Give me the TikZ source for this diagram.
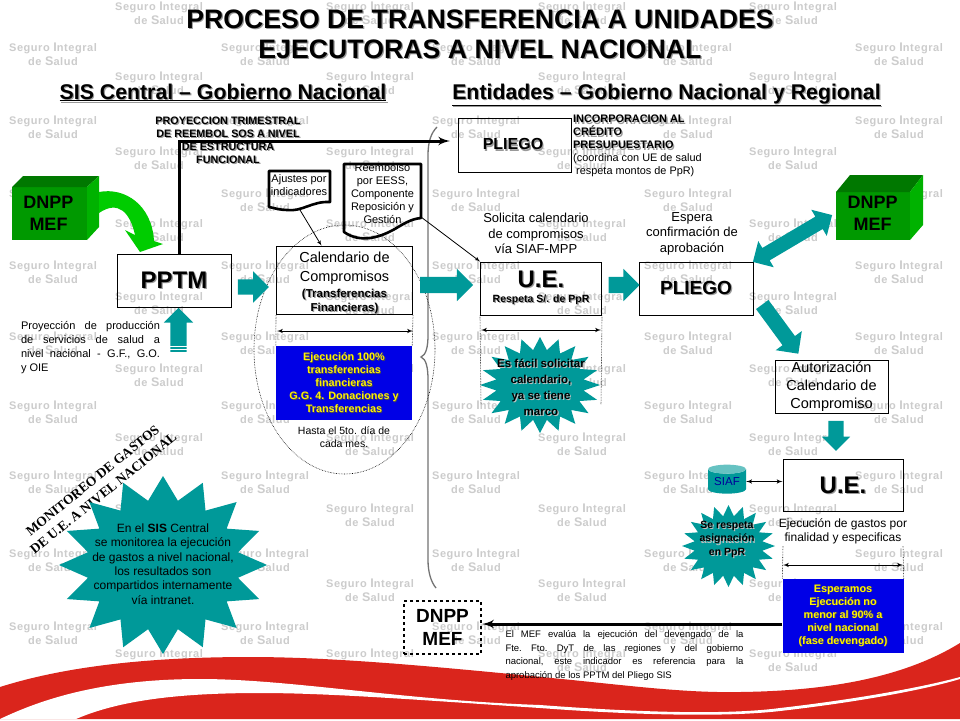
\documentclass[tikz,border=0pt]{standalone}
\usepackage{fontspec}
\setmainfont{Liberation Sans}
\newfontfamily\wmfont[LetterSpace=5]{Liberation Sans}
\newfontfamily\monfont{Liberation Serif}
\usetikzlibrary{shapes, arrows}

\definecolor{tealc}{RGB}{0,153,153}
\definecolor{bluec}{RGB}{0,0,230}
\definecolor{redc}{RGB}{218,37,28}
\newcommand{\fs}[2]{\fontsize{#1}{#2}\selectfont}
\newcommand{\shd}[2][black!40]{\leavevmode\rlap{\kern1.2pt\raisebox{-1.2pt}{\textcolor{#1}{#2}}}#2}
\newcommand{\ysh}[1]{\leavevmode\rlap{\kern0.8pt\raisebox{-0.8pt}{\textcolor{black!70}{#1}}}\textcolor{yellow}{#1}}

\begin{document}
\begin{tikzpicture}[x=1pt,y=-1pt]

\tikzstyle{connector} = [draw, -latex', line width=0.8pt]
\tikzstyle{both} = [draw, latex'-latex', line width=1pt]
\tikzstyle{heavy} = [draw, -latex', line width=3pt]
\tikzstyle{guide} = [draw, densely dotted, line width=0.6pt]
\tikzstyle{box} = [rectangle, draw, line width=1pt, align=center, inner sep=0pt]
\tikzstyle{bluebox} = [rectangle, fill=bluec, align=center, inner sep=0pt, font=\bfseries\fs{10.8}{13}]
\tikzstyle{txt} = [align=center, inner sep=0pt]
\tikzstyle{docline} = [draw, line width=2.6pt, line join=round]
\tikzstyle{tarrow} = [single arrow, fill=tealc, inner xsep=0pt, outer sep=0pt]
\tikzstyle{burst} = [star, fill=tealc, inner sep=0pt, outer sep=0pt, transform shape]
\tikzstyle{cube} = [txt, font=\bfseries\fs{18}{22}]
\tikzstyle{wm} = [txt, text=black!20, font=\wmfont\bfseries\fs{11}{14}]

\path [use as bounding box, fill=white] (0,0) rectangle (960,720);

% watermark
\foreach \wx in {53,265,476,688,899}
  \foreach \wy in {54,127,200,272,343,412,482,560,633}
    \node [wm] (wm-\wx-\wy) at (\wx,\wy) {Seguro {\fs{12.5}{14}I}ntegral\\de {\fs{12.5}{14}S}alud};
\foreach \wx in {159,370,582,793}
  \foreach \wy in {13,83,158,230,303,375,444,515,590,660}
    \node [wm] (wm-\wx-\wy) at (\wx,\wy) {Seguro {\fs{12.5}{14}I}ntegral\\de {\fs{12.5}{14}S}alud};

% red band
\fill [redc] (0,687) .. controls (60,668) and (140,657) .. (250,657)
  .. controls (340,657) and (450,668) .. (572,680) .. controls (640,687) and (690,693) .. (740,692)
  .. controls (820,691) and (900,680) .. (960,643) -- (960,719) -- (0,719) -- cycle;
\fill [white] (0,719) .. controls (40,700) and (100,679) .. (200,679)
  .. controls (290,679) and (400,700) .. (540,705) .. controls (620,711) and (720,716) .. (780,708)
  .. controls (850,700) and (920,688) .. (960,677) -- (960,679)
  .. controls (920,691) and (850,703) .. (780,711) .. controls (720,718) and (620,714) .. (540,708)
  .. controls (420,700) and (330,693) .. (260,693) .. controls (180,693) and (120,700) .. (76,719) -- cycle;

% titles
\node [txt, font=\bfseries\fs{26.7}{30}] (title) at (480,35) {\shd{PROCESO DE TRANSFERENCIA A UNIDADES}\\\shd{EJECUTORAS A NIVEL NACIONAL}};
\node [txt, anchor=base, font=\bfseries\fs{21.3}{24}] (sis) at (223,99) {\shd{\underline{SIS Central – Gobierno Nacional}}};
\node [txt, anchor=base, font=\bfseries\fs{21.3}{24}] (entidades) at (666.5,99) {\shd{\underline{Entidades – Gobierno Nacional y Regional}}};

% brace and ellipse
\draw [black!55, line width=1.3pt] (437,127) .. controls (431,133) and (428,142) .. (428,155) -- (428,335)
  .. controls (428,347) and (426,355) .. (421,357) .. controls (426,359) and (428,367) .. (428,380) -- (428,560)
  .. controls (428,572) and (431,582) .. (436,588);
\draw [densely dotted, line width=0.6pt] (344.5,349.5) ellipse (90.5 and 124.5);

% cubes
\fill [green!60!black] (12,187) -- (87,187) -- (87,240) -- (12,240) -- cycle;
\fill [green!47!black] (12,187) -- (23,176) -- (99,176) -- (87,187) -- cycle;
\fill [green!70!black] (87,187) -- (99,176) -- (99,227) -- (87,240) -- cycle;
\fill [green!60!black] (836,192) -- (910,192) -- (910,240) -- (836,240) -- cycle;
\fill [green!47!black] (836,192) -- (850,175) -- (923,175) -- (910,192) -- cycle;
\fill [green!70!black] (910,192) -- (923,175) -- (923,225) -- (910,240) -- cycle;
\node [cube] (dnpp_left) at (48.5,213) {DNPP\\MEF};
\node [cube] (dnpp_right) at (872.5,213) {DNPP\\MEF};
\fill [green!80!black] (99,192) .. controls (125,187) and (152,205) .. (154,241) -- (163,244) -- (140,252)
  -- (125,230) -- (135,235) .. controls (130,212) and (118,200) .. (99,213) -- cycle;

% boxes
\node [box, minimum width=114pt, minimum height=53pt, font=\bfseries\fs{24}{26}] (pptm) at (174,280.5) {\shd{PPTM}};
\node [box, minimum width=113pt, minimum height=54pt, font=\bfseries\fs{16}{18}] (pliego_top) at (514.5,145) {\kern-3pt\shd{PLIEGO}};
\node [box, minimum width=136pt, minimum height=67pt, font=\fs{14.5}{19}] (calendar) at (344.5,280.5)
  {\rule{0pt}{16pt}Calendario de\\Compromisos\\[-3pt]\bfseries\fs{11.5}{14}\shd{(Transferencias}\\[-5pt]\bfseries\fs{11.5}{14}\shd{Financieras)}};
\node [box, minimum width=121pt, minimum height=53pt, font=\bfseries\fs{24}{17}] (ue) at (541,288.5)
  {\raisebox{-3pt}{\shd{U.E.}}\\\fs{10.5}{12}\raisebox{-1pt}{\shd{Respeta S/. de PpR}}};
\node [box, minimum width=114pt, minimum height=53pt, font=\bfseries\fs{19}{21}] (pliego) at (696,288.5) {\shd{PLIEGO}};
\node [box, minimum width=113pt, minimum height=53pt, font=\fs{14.5}{18}] (autoriza) at (831.5,386.5) {Autorización\\Calendario de\\Compromiso};
\node [box, minimum width=120pt, minimum height=52pt, font=\bfseries\fs{24}{26}] (ue_exec) at (843,485.5) {\shd{U.E.}};
\node [box, dashed, line width=2.4pt, minimum width=77pt, minimum height=53pt, font=\bfseries\fs{19}{23}] (dnpp_dash) at (442.5,627.5) {DNPP\\MEF};

% blue boxes
\node [bluebox, minimum width=136pt, minimum height=74pt] (exec100) at (344,383)
  {\ysh{Ejecución 100\%}\\\ysh{transferencias}\\\ysh{financieras}\\\ysh{G.G. 4. Donaciones y}\\\ysh{Transferencias}};
\node [bluebox, minimum width=121pt, minimum height=74pt] (exec90) at (843,616)
  {\ysh{Esperamos}\\\ysh{Ejecución no}\\\ysh{menor al 90\% a}\\\ysh{nivel nacional}\\\ysh{(fase devengado)}};

% documents
\draw [docline] (269,171) -- (330,171) -- (330,202) .. controls (312,201) and (302,212) .. (287,210) .. controls (280,210) and (274,208) .. (269,207) -- cycle;
\draw [docline] (344,164) -- (421,164) -- (421,218) .. controls (410,219) and (402,225) .. (393,230) .. controls (378,238) and (360,243) .. (344,232) -- cycle;
\node [txt, font=\fs{11}{13}] (ajustes) at (299,185.5) {Ajustes por\\indicadores};
\node [txt, font=\fs{11}{13}] (reembolso) at (382.5,194) {Reembolso\\por EESS,\\Componente\\Reposición y\\Gestión};

% texts
\node [txt, font=\bfseries\fs{10.8}{13}] (proyeccion) at (228,140.5) {\shd{PROYECCION TRIMESTRAL}\\\shd{DE REEMBOL SOS A NIVEL}\\\shd{DE ESTRUCTURA}\\\shd{FUNCIONAL}};
\node [txt, align=left, anchor=north west, font=\fs{10.9}{13}] (incorp) at (573,115)
  {\bfseries\shd{INCORPORACION AL}\\\bfseries\shd{CRÉDITO}\\\bfseries\shd{PRESUPUESTARIO}\\(coordina con UE de salud\\\ respeta montos de PpR)};
\node [txt, text width=139pt, align=justify, font=\frenchspacing\fs{11}{14}] (produccion) at (90.5,347.5)
  {Proyección de producción\linebreak de servicios de salud a\linebreak nivel nacional - G.F., G.O.\linebreak y OIE};
\node [txt, font=\fs{13}{15.5}] (solicita) at (536,233.5) {Solicita calendario\\de compromisos\\vía SIAF-MPP};
\node [txt, font=\fs{13}{15.5}] (espera) at (692,233.5) {Espera\\confirmación de\\aprobación};
\node [txt, font=\fs{10.5}{13}] (hasta) at (344,437.5) {Hasta el 5to. día de\\cada mes.};
\node [txt, font=\fs{12}{14}] (ejecucion) at (843,531) {Ejecución de gastos por\\finalidad y especificas};
\node [txt, text width=238pt, align=justify, font=\frenchspacing\fs{9.5}{13.4}] (evalua) at (624.5,655.5)
  {El MEF evalúa la ejecución del devengado de la\linebreak Fte. Fto. DyT de las regiones y del gobierno\linebreak nacional, este indicador es referencia para la\linebreak aprobación de los PPTM del Pliego SIS};
\node [txt, rotate=39, font=\monfont\bfseries\fs{13.5}{17}] (monitoreo) at (98,487) {MONITOREO DE GASTOS\\DE U.E. A NIVEL NACIONAL};

% teal arrows
\node [tarrow, inner ysep=7.5pt, minimum height=31pt, single arrow head extend=8pt] (a_pptm) at (249.5,287) {};
\node [tarrow, inner ysep=8pt, minimum height=53pt, single arrow head extend=8pt] (a_cal) at (442.5,285) {};
\node [tarrow, inner ysep=8pt, minimum height=31pt, single arrow head extend=8pt] (a_ue) at (620,285) {};
\node [tarrow, inner ysep=8pt, rotate=90, minimum height=44pt, single arrow head extend=6.5pt] (a_up) at (178.5,334) {};
\node [tarrow, inner ysep=7.5pt, rotate=-90, minimum height=30pt, single arrow head extend=6.5pt] (a_down) at (836,432) {};
\node [tarrow, inner ysep=7.5pt, rotate=-53.7, minimum height=61pt, single arrow head extend=8.5pt] (a_auth) at (778,326) {};
\node [double arrow, fill=tealc, inner xsep=0pt, inner ysep=7pt, rotate=30.6, minimum height=92pt, double arrow head extend=8pt] (a_mef) at (792.5,238.5) {};
\draw [white, line width=0.8pt] (170,346.5) -- (187,346.5) (170,349.5) -- (187,349.5);

% stars
\node [burst, star points=16, star point ratio=1.36, minimum size=178pt, xscale=1.169] (star_sis) at (163,565) {};
\node [burst, star points=20, star point ratio=1.36, minimum size=96pt, xscale=1.25] (star_ue) at (540,385) {};
\node [burst, star points=20, star point ratio=1.36, minimum size=82pt, xscale=1.134] (star_asig) at (728.5,546) {};
\node [txt, font=\fs{12}{14.4}] (star_sis_txt) at (163,564) {En el \textbf{SIS} Central\\se monitorea la ejecución\\de gastos a nivel nacional,\\los resultados son\\compartidos internamente\\vía intranet.};
\node [txt, font=\bfseries\fs{11.5}{16}] (star_ue_txt) at (541,388) {\shd[white!75!black]{Es fácil solicitar}\\\shd[white!75!black]{calendario,}\\\shd[white!75!black]{ya se tiene}\\\shd[white!75!black]{marco}};
\node [txt, font=\bfseries\fs{10.5}{13.5}] (star_asig_txt) at (727,540) {\shd[white!75!black]{Se respeta}\\\shd[white!75!black]{asignación}\\\shd[white!75!black]{en PpR}};

% siaf
\node [cylinder, shape border rotate=90, aspect=0.35, cylinder uses custom fill, cylinder body fill=tealc, cylinder end fill=tealc!60,
  minimum height=29pt, minimum width=38pt, inner sep=0pt, text=blue!60!black, font=\fs{11.5}{13}] (siaf) at (727,481.5) {SIAF};

% coordinates for the free ends
\coordinate (pliego_in) at (450,141);
\coordinate (ajustes_out) at (300,210);
\coordinate (reembolso_out) at (421,217);
\coordinate (ue_low_l) at (481,405);
\coordinate (ue_low_r) at (601,405);
\coordinate (calendar_dim_l) at (277,331);
\coordinate (calendar_dim_r) at (413,331);
\coordinate (ue_dim_l) at (481,330);
\coordinate (ue_dim_r) at (601,330);
\coordinate (exec_top_l) at (783,546);
\coordinate (exec_top_r) at (903,546);
\coordinate (exec_dim_l) at (783,565);
\coordinate (exec_dim_r) at (903,565);

% connectors
\path [heavy] ([xshift=5pt]pptm.north) |- (pliego_in);
\path [connector] (ajustes_out) -- ([xshift=-23pt]calendar.north);
\path [connector] (reembolso_out) -- (ue.north west);
\path [heavy] ([yshift=3.5pt]exec90.west |- dnpp_dash.east) -- ([yshift=3.5pt]dnpp_dash.east);
\path [both] (siaf.east) -- (siaf.east -| ue_exec.west);
\path [both] (calendar_dim_l) -- (calendar_dim_r);
\path [both] (ue_dim_l) -- (ue_dim_r);
\path [both] (exec_dim_l) -- (exec_dim_r);
\path [guide] (calendar.south west) -- (exec100.north west);
\path [guide] (calendar.south east) -- (exec100.north east);
\path [guide] (ue.south west) -- (ue_low_l);
\path [guide] (ue.south east) -- (ue_low_r);
\path [guide] (exec_top_l) -- (exec90.north west);
\path [guide] (exec_top_r) -- (exec90.north east);

\end{tikzpicture}
\end{document}
